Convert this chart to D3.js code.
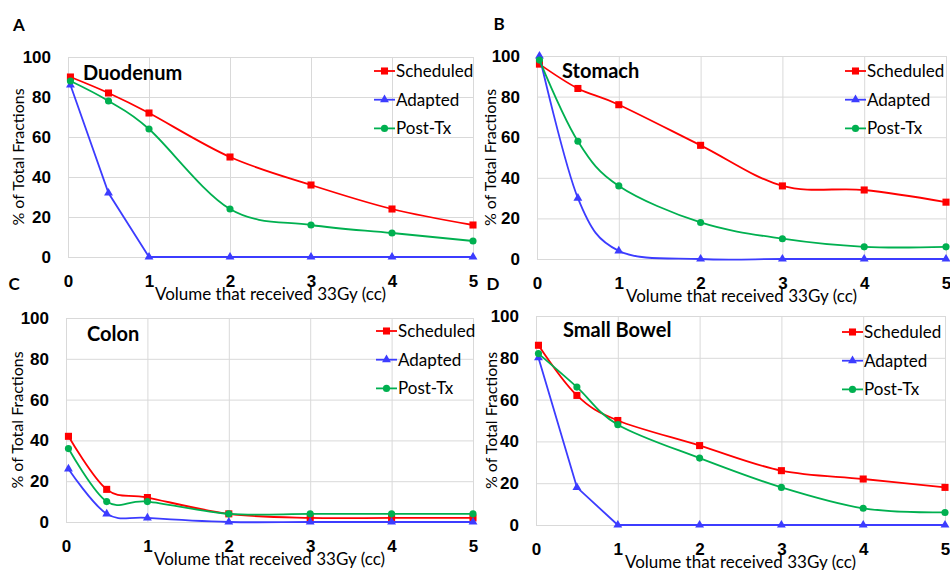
<!DOCTYPE html>
<html>
<head>
<meta charset="utf-8">
<script src="https://cdn.jsdelivr.net/npm/d3@7"></script>
<style>
  body { margin: 0; background: #fff; }
  svg { display: block; font-family: Lato, "Open Sans", sans-serif; }
  .grid line { stroke: #d9d9d9; stroke-width: 1; }
  .tick text { font-weight: bold; font-size: 17px; fill: #000; }
</style>
</head>
<body>
<svg id="chart" width="950" height="570"></svg>
<script>
const seriesNames = ['Scheduled', 'Adapted', 'Post-Tx'];
const volumes = [0.03, 0.5, 1, 2, 3, 4, 5]; // cc
const xTicks = [0, 1, 2, 3, 4, 5];
const yTicks = [0, 20, 40, 60, 80, 100];

const duodenumScheduled = [90, 82, 72, 50, 36, 24, 16];
const duodenumAdapted   = [86, 32, 0, 0, 0, 0, 0];
const duodenumPostTx    = [88, 78, 64, 24, 16, 12, 8];

const stomachScheduled = [96, 84, 76, 56, 36, 34, 28];
const stomachAdapted   = [100, 30, 4, 0, 0, 0, 0];
const stomachPostTx    = [98, 58, 36, 18, 10, 6, 6];

const colonScheduled = [42, 16, 12, 4, 2, 2, 2];
const colonAdapted   = [26, 4, 2, 0, 0, 0, 0];
const colonPostTx    = [36, 10, 10, 4, 4, 4, 4];

const bowelScheduled = [86, 62, 50, 38, 26, 22, 18];
const bowelAdapted   = [80, 18, 0, 0, 0, 0, 0];
const bowelPostTx    = [82, 66, 48, 32, 18, 8, 6];

const colors = ['#ff0000', '#3c3cff', '#00b050'];
const symbols = [d3.symbolSquare, d3.symbolTriangle, d3.symbolCircle];
const symbolSizes = [50, 34, 40];

/* ===== Panel layout (plot box in px) ===== */
const panels = [
    { letter: 'A', title: 'Duodenum', values: [duodenumScheduled, duodenumAdapted, duodenumPostTx],
      smooth: [true, false, true],
      left: 68, right: 473, top: 57, bottom: 257,
      letterPos: [19, 25], titlePos: [83, 73], legend: [374, 71], yTitleX: 18 },
    { letter: 'B', title: 'Stomach', values: [stomachScheduled, stomachAdapted, stomachPostTx],
      smooth: [true, true, true],
      left: 537, right: 946, top: 56, bottom: 259,
      letterPos: [499, 24], titlePos: [562, 71], legend: [845, 71], yTitleX: 490 },
    { letter: 'C', title: 'Colon', values: [colonScheduled, colonAdapted, colonPostTx],
      smooth: [true, true, true],
      left: 66, right: 473, top: 318, bottom: 522,
      letterPos: [14, 284], titlePos: [87, 334], legend: [376, 331], yTitleX: 17 },
    { letter: 'D', title: 'Small Bowel', values: [bowelScheduled, bowelAdapted, bowelPostTx],
      smooth: [true, false, true],
      left: 536, right: 945, top: 316, bottom: 525,
      letterPos: [493, 284], titlePos: [563, 330], legend: [842, 332], yTitleX: 491 }
];

const svg = d3.select('#chart');

panels.forEach(p => drawPanel(p));

function drawPanel(p) {
    const w = p.right - p.left;
    const h = p.bottom - p.top;

    const x = d3.scaleLinear().domain([0, 5]).range([0, w]);
    const y = d3.scaleLinear().domain([0, 100]).range([h, 0]);

    const g = svg.append('g').attr('transform', `translate(${p.left},${p.top})`);

    // Gridlines + tick labels
    const yAxis = g.append('g')
        .attr('class', 'grid')
        .call(d3.axisLeft(y).tickValues(yTicks).tickFormat(d3.format('d')).tickSize(-w).tickPadding(17));
    yAxis.select('.domain').remove();

    const xAxis = g.append('g')
        .attr('class', 'grid')
        .attr('transform', `translate(0,${h})`)
        .call(d3.axisBottom(x).tickValues(xTicks).tickFormat(d3.format('d')).tickSize(-h));
    xAxis.select('.domain').remove();
    xAxis.selectAll('text').attr('y', 24).attr('dy', '0.35em');

    // Axis titles
    g.append('text')
        .attr('transform', `translate(${p.yTitleX - p.left},${h / 2}) rotate(-90)`)
        .attr('text-anchor', 'middle')
        .attr('dy', '0.35em')
        .style('font-size', '16px')
        .text('% of Total Fractions');

    g.append('text')
        .attr('x', w / 2)
        .attr('y', h + 37)
        .attr('text-anchor', 'middle')
        .attr('dy', '0.35em')
        .style('font-size', '17px')
        .text('Volume that received 33Gy (cc)');

    // Series
    p.values.forEach((vals, i) => {
        const pts = vals.map((v, j) => [volumes[j], v]);
        const line = d3.line()
            .x(d => x(d[0]))
            .y(d => y(d[1]))
            .curve(p.smooth[i] ? d3.curveCardinal.tension(0) : d3.curveLinear);

        g.append('path')
            .attr('d', line(pts))
            .attr('fill', 'none')
            .attr('stroke', colors[i])
            .attr('stroke-width', 1.8);

        g.selectAll(null)
            .data(pts)
            .enter().append('path')
            .attr('transform', d => `translate(${x(d[0])},${y(d[1])})`)
            .attr('d', d3.symbol().type(symbols[i]).size(symbolSizes[i]))
            .attr('fill', colors[i]);
    });

    // Legend
    const lg = svg.append('g').attr('transform', `translate(${p.legend[0]},${p.legend[1]})`);
    seriesNames.forEach((name, i) => {
        const row = lg.append('g').attr('transform', `translate(0,${i * 28.7})`);
        row.append('line')
            .attr('x1', 0).attr('x2', 21)
            .attr('stroke', colors[i])
            .attr('stroke-width', 1.8);
        row.append('path')
            .attr('transform', 'translate(10.5,0)')
            .attr('d', d3.symbol().type(symbols[i]).size(symbolSizes[i]))
            .attr('fill', colors[i]);
        row.append('text')
            .attr('x', 22)
            .attr('dy', '0.35em')
            .style('font-size', '17px')
            .text(name);
    });

    // Panel title + letter
    svg.append('text')
        .attr('x', p.titlePos[0])
        .attr('y', p.titlePos[1])
        .attr('dy', '0.35em')
        .style('font-size', '20px')
        .style('font-weight', 'bold')
        .text(p.title);

    svg.append('text')
        .attr('x', p.letterPos[0])
        .attr('y', p.letterPos[1])
        .attr('text-anchor', 'middle')
        .attr('dy', '0.35em')
        .style('font-size', '17px')
        .style('font-weight', 'bold')
        .text(p.letter);
}
</script>
</body>
</html>
